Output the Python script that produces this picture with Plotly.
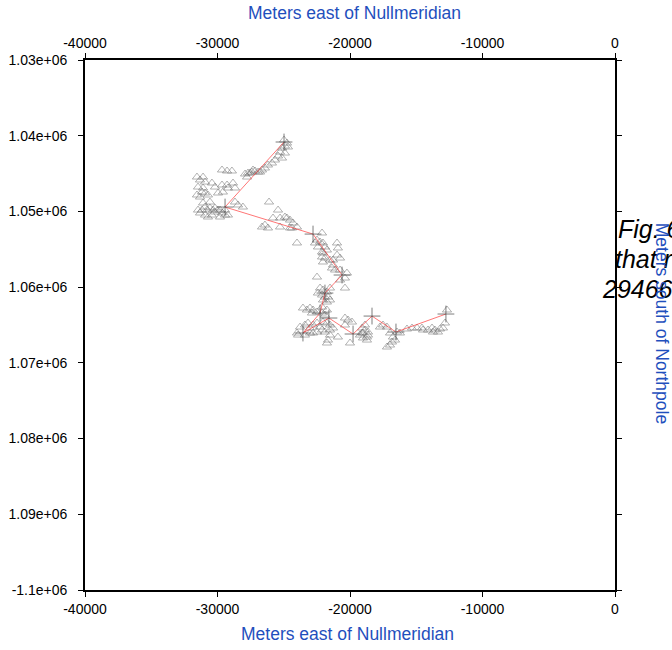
import plotly.graph_objects as go

# Track vertices (metres east of Nullmeridian / metres "north" offset from the pole)
track_x = [-24980, -29430, -22790, -20600, -21890, -22260, -23550,
           -21590, -19770, -18340, -16530, -12760]
track_y = [-1040830, -1049420, -1052990, -1058400, -1060780, -1063420, -1066060,
           -1064080, -1066190, -1063820, -1065930, -1063550]

# Individual position fixes
fix_x = [
    # upper arm
    -24980, -24755, -24910, -24680, -25130, -25280, -24910, -25430, -25130, -25660,
    -25890, -26190, -26420, -26640, -26940, -27170, -27400, -27700, -27920, -27770,
    -27550, -26790, -27320,
    -29660, -29280, -28910,
    # western cluster
    -31550, -31090, -31320, -30940, -30420, -30190, -29660, -29280, -29210, -28830,
    -28680, -29590, -29960, -31470, -31090, -31170, -31550, -31320, -30940, -30720,
    -30570, -31090, -30940, -31170, -31320, -30940, -30720, -30420, -30190, -29960,
    -29660, -29430, -29810, -29210, -28680, -28450, -28080, -30790, -30570, -30340,
    -31470, -30190, -29810, -29430,
    # middle
    -26110, -25430, -25810, -25280, -24760, -24530, -26640, -26420, -26190, -25280,
    -24530, -24300, -24000, -24380, -24910,
    # southward leg
    -24000, -22110, -22490, -22260, -22040, -22640, -22420, -21890, -20980, -20910,
    -22110, -21740, -22040, -22110, -21890, -22040, -21510, -21280, -20980, -20750,
    -21280, -21360, -21130, -20750, -20230, -20380, -20750, -20380, -22490, -22260,
    -22040, -21740, -21510, -22420, -22110, -21890, -21660, -22040, -21740, -21510,
    -22110, -23550, -23250, -23020, -22790, -22490, -22870, -22110, -21890, -21740,
    # southern cluster
    -23770, -23400, -23170, -23020, -22790, -22490, -22260, -22040, -21740, -21510,
    -22110, -21890, -21510, -21280, -22490, -22790, -23400, -23020, -21510, -20910,
    -23920, -24000, -21660, -20380, -20150, -19850, -20380, -20000, -21740,
    # eastern arm
    -19090, -18870, -19020, -19250, -18720, -18640, -17510, -17210, -17740, -18870,
    -18640, -19090, -18720, -19020, -16980, -16760, -16600, -16830, -16980, -16450,
    -16230, -17210, -15320, -14940, -14570, -14490, -13810, -13590, -13360, -13210,
    -13740, -12830, -12680, -12980, -15700, -14110,
]
fix_y = [
    # upper arm
    -1040570, -1040970, -1041360, -1041490, -1041630, -1042160, -1042290, -1042680, -1042950, -1043210,
    -1043610, -1043870, -1044270, -1044530, -1044800, -1044660, -1044800, -1044930, -1045060, -1045460,
    -1044930, -1044800, -1044530,
    -1044530, -1044660, -1044660,
    # western cluster
    -1045460, -1045460, -1045850, -1046120, -1046250, -1046780, -1046510, -1046510, -1046910, -1046250,
    -1046910, -1047440, -1047570, -1046780, -1046910, -1047440, -1047830, -1048100, -1047570, -1047830,
    -1048760, -1048890, -1049420, -1049820, -1050210, -1050480, -1050740, -1050480, -1050080, -1049820,
    -1050210, -1050480, -1050740, -1050480, -1048760, -1049150, -1049420, -1049820, -1049550, -1049820,
    -1049820, -1049550, -1049820, -1049820,
    # middle
    -1048760, -1049820, -1050870, -1050870, -1050870, -1051140, -1052060, -1051800, -1052190, -1052060,
    -1052190, -1051530, -1052060, -1052190, -1050740,
    # southward leg
    -1054170, -1052850, -1053780, -1054040, -1054170, -1054170, -1054700, -1054700, -1054170, -1054830,
    -1055360, -1055100, -1055500, -1056020, -1056160, -1056680, -1056420, -1056420, -1055760, -1056160,
    -1057080, -1057480, -1057740, -1057740, -1058140, -1058800, -1059060, -1060120, -1058670, -1060120,
    -1060380, -1060650, -1060120, -1060780, -1061040, -1061310, -1061310, -1061700, -1061970, -1061700,
    -1062630, -1062760, -1063020, -1062760, -1063020, -1063290, -1063420, -1063420, -1063680, -1063020,
    # southern cluster
    -1065270, -1065000, -1064740, -1065400, -1065000, -1064740, -1065270, -1064610, -1064740, -1065000,
    -1065660, -1065930, -1065660, -1065400, -1065930, -1066060, -1066330, -1066060, -1066330, -1066590,
    -1066330, -1066060, -1066990, -1064080, -1064340, -1064610, -1065000, -1067380, -1067380,
    # eastern arm
    -1065400, -1065000, -1066060, -1066330, -1066590, -1065930, -1065000, -1065270, -1065270, -1065660,
    -1066330, -1066060, -1066990, -1066720, -1066060, -1066590, -1066990, -1067250, -1067650, -1065930,
    -1066060, -1067910, -1065400, -1065400, -1065400, -1065660, -1065400, -1065660, -1065930, -1065530,
    -1065930, -1064740, -1063020, -1065400, -1065530, -1065660,
]

x_ticks = [-40000, -30000, -20000, -10000, 0]
x_tick_text = ["-40000", "-30000", "-20000", "-10000", "0"]
y_ticks = [-1030000, -1040000, -1050000, -1060000, -1070000, -1080000, -1090000, -1100000]
y_tick_text = ["1.03e+06", "1.04e+06", "1.05e+06", "1.06e+06",
               "1.07e+06", "1.08e+06", "1.09e+06", "-1.1e+06"]

caption_lines = ["Fig. 6: Chart of the drift", "that records the", "29466 position fixes"]

FONT = "Liberation Sans, Arial, Helvetica, sans-serif"
BLUE = "#1f4fbd"

fig = go.Figure()

fig.add_trace(go.Scatter(
    x=fix_x, y=fix_y, mode="markers",
    marker=dict(symbol="triangle-up-open", size=8,
                color="rgba(105,105,105,0.5)", line=dict(width=1)),
    hoverinfo="skip", showlegend=False,
))
fig.add_trace(go.Scatter(
    x=track_x, y=track_y, mode="lines",
    line=dict(color="rgba(255,60,60,0.7)", width=1),
    hoverinfo="skip", showlegend=False,
))
fig.add_trace(go.Scatter(
    x=track_x, y=track_y, mode="markers",
    marker=dict(symbol="cross-thin-open", size=12,
                color="rgba(70,70,70,0.7)", line=dict(width=1, color="rgba(70,70,70,0.7)")),
    hoverinfo="skip", showlegend=False,
))
# invisible trace so the top (mirrored) x axis is drawn
fig.add_trace(go.Scatter(x=[x_ticks[0]], y=[y_ticks[0]], xaxis="x2", mode="markers",
                         marker=dict(opacity=0), hoverinfo="skip", showlegend=False))

axis_common = dict(
    showgrid=False, zeroline=False, showline=True, linecolor="black", linewidth=1.8,
    ticks="outside", ticklen=5, tickwidth=1.4, tickcolor="black",
    tickfont=dict(family=FONT, size=14, color="black"),
)

fig.update_layout(
    width=672, height=650,
    margin=dict(l=85, r=57, t=60, b=60, autoexpand=False),
    paper_bgcolor="white", plot_bgcolor="white",
    font=dict(family=FONT),
    xaxis=dict(range=[-40000, 0], tickmode="array", tickvals=x_ticks, ticktext=x_tick_text,
               side="bottom", anchor="y", automargin=False, **axis_common),
    xaxis2=dict(range=[-40000, 0], tickmode="array", tickvals=x_ticks, ticktext=x_tick_text,
                side="top", overlaying="x", anchor="y", matches="x", automargin=False, **axis_common),
    yaxis=dict(range=[-1100000, -1030000], tickmode="array", tickvals=y_ticks, ticktext=y_tick_text,
               mirror="ticks", automargin=False, ticklabelstandoff=8, **axis_common),
)

annotations = []
caption_pos = [(1.001, 0.681), (0.9953, 0.6245), (0.9726, 0.568)]
for line, (ax, ay) in zip(caption_lines, caption_pos):
    annotations.append(dict(
        text=line, xref="paper", yref="paper", x=ax, y=ay,
        xanchor="left", yanchor="middle", showarrow=False,
        font=dict(family=FONT, size=25, color="black", style="italic"),
    ))
annotations += [
    dict(text="Meters east of Nullmeridian", xref="paper", yref="paper",
         x=0.5085, y=1.0887, xanchor="center", yanchor="middle", showarrow=False,
         font=dict(family=FONT, size=17.5, color=BLUE)),
    dict(text="Meters east of Nullmeridian", xref="paper", yref="paper",
         x=0.496, y=-0.083, xanchor="center", yanchor="middle", showarrow=False,
         font=dict(family=FONT, size=17.5, color=BLUE)),
    dict(text="Meters south of Northpole", xref="paper", yref="paper",
         x=1.088, y=0.503, xanchor="center", yanchor="middle", showarrow=False,
         textangle=90, font=dict(family=FONT, size=17.5, color=BLUE)),
]
fig.update_layout(annotations=annotations)

fig.write_html("out.html")
